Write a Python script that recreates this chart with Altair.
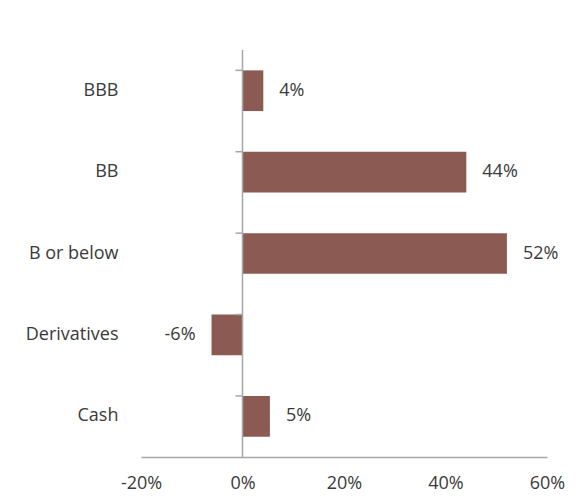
import altair as alt
import pandas as pd

categories = ["BBB", "BB", "B or below", "Derivatives", "Cash"]
values = [0.041, 0.441, 0.521, -0.061, 0.054]
x_ticks = [-0.2, 0.0, 0.2, 0.4, 0.6]

df = pd.DataFrame({"cat": categories, "val": values})

FONT = "Open Sans"
FS = 18
BAR = "#8B5B53"
AXIS = "#A6A6A6"
TXT = "#3A3A3A"

yenc = alt.Y("cat:N", sort=categories,
             scale=alt.Scale(paddingInner=0.5, paddingOuter=0.25),
             axis=alt.Axis(title=None, ticks=False, domain=False, labelPadding=23,
                           labelFont=FONT, labelFontSize=FS, labelColor=TXT,
                           labelFontWeight="normal"))
xscale = alt.Scale(domain=[-0.2, 0.6], nice=False, zero=False)

base = alt.Chart(df).transform_calculate(
    lbl="(datum.val < 0 ? '-' : '') + format(abs(datum.val), '.0%')"
)

bars = base.mark_bar(color=BAR).encode(
    x=alt.X("val:Q", scale=xscale,
            axis=alt.Axis(title=None, values=x_ticks, grid=False, ticks=False,
                          labelExpr="(datum.value < 0 ? '-' : '') + format(abs(datum.value), '.0%')",
                          labelFlush=False, labelOverlap=False,
                          domainColor=AXIS, domainWidth=1.5, labelPadding=17,
                          labelFont=FONT, labelFontSize=FS, labelColor=TXT)),
    y=yenc,
)

labels_pos = base.transform_filter("datum.val >= 0").mark_text(
    align="left", dx=16, font=FONT, fontSize=FS, color=TXT, baseline="middle"
).encode(x="val:Q", y=alt.Y("cat:N", sort=categories), text="lbl:N")

labels_neg = base.transform_filter("datum.val < 0").mark_text(
    align="right", dx=-16, font=FONT, fontSize=FS, color=TXT, baseline="middle"
).encode(x="val:Q", y=alt.Y("cat:N", sort=categories), text="lbl:N")

vline = alt.Chart(pd.DataFrame({"z": [0.0]})).mark_rule(color=AXIS, strokeWidth=1.5).encode(
    x=alt.X("z:Q")
)

ticks = base.mark_rule(color=AXIS, strokeWidth=1.5, xOffset=-7).encode(
    x=alt.X(datum=0),
    x2=alt.X2(datum=0),
    y=alt.Y("cat:N", sort=categories, bandPosition=0),
)

chart = alt.layer(bars, vline, ticks, labels_pos, labels_neg).properties(
    width=406, height=407,
    background="white",
    autosize=alt.AutoSizeParams(type="none"),
    padding={"left": 133, "top": 42, "right": 27, "bottom": 36},
).configure_view(strokeWidth=0, stroke=None)

chart.save("out.html", embed_options={"renderer": "svg", "actions": False})
